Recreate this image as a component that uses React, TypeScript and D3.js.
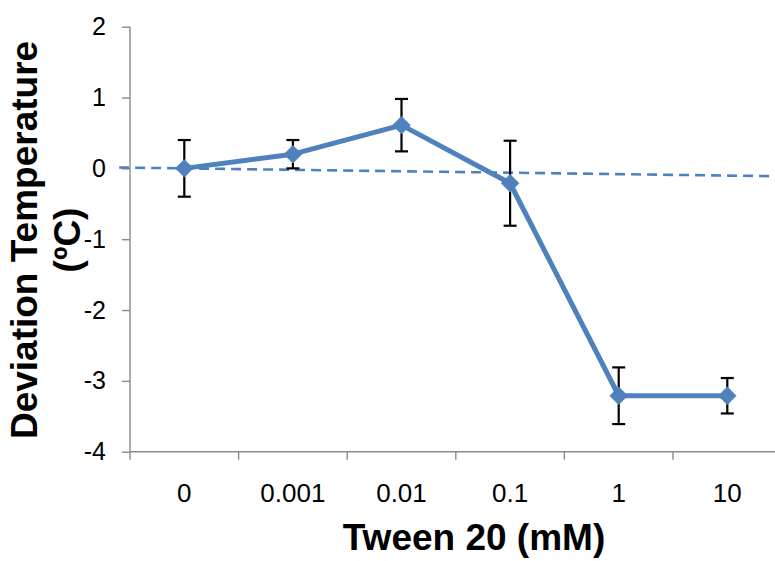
import * as d3 from "d3";
import React from "react";

// data
const categories = ["0", "0.001", "0.01", "0.1", "1", "10"];
const deviation = [0, 0.2, 0.61, -0.21, -3.21, -3.21];
const errors = [0.4, 0.2, 0.37, 0.6, 0.4, 0.25];
const yTicks = [2, 1, 0, -1, -2, -3, -4];
// dashed trend line, ends given as (category index, value)
const trendIndex = [-0.6, 5.6];
const trendValue = [0.012, -0.114];

export default class App extends React.Component {
  svgRef: any;
  width: number;
  height: number;

  constructor(props: any) {
    super(props);
    this.svgRef = React.createRef();
    this.width = 775;
    this.height = 561;
  }

  componentDidMount = () => {
    const svg = d3.select(this.svgRef.current);
    svg.attr("width", this.width).attr("height", this.height);
    this.drawSVG(svg);
  };

  drawSVG = (svg: any) => {
    const blue = "#4F81BD";
    const axisColor = "#8a8a8a";
    const font = "'Liberation Sans', Arial, sans-serif";

    // scales
    const xScale = d3.scaleBand().domain(categories).range([130, 781.6]).padding(0);
    const yScale = d3.scaleLinear().domain([-4, 2]).range([451.7, 26.7]);
    const bw = xScale.bandwidth();
    const xAt = (i: number) => (xScale(categories[0]) as number) + (i + 0.5) * bw;
    const xCenter = (c: string) => (xScale(c) as number) + bw / 2;

    const g = svg.append("g");

    // y axis
    const yAxis = d3.axisLeft(yScale).tickValues(yTicks).tickSize(8).tickPadding(16)
      .tickFormat((d: any) => (d < 0 ? "-" + Math.abs(d) : String(d)));
    const yAxisG = g.append("g").attr("transform", "translate(130,0)").call(yAxis);
    yAxisG.select(".domain").attr("stroke", axisColor).attr("stroke-width", 1.4).attr("d", `M0,${yScale(2)}V${yScale(-4)}`);
    yAxisG.selectAll(".tick line").attr("stroke", axisColor).attr("stroke-width", 1.4);
    yAxisG.selectAll(".tick text")
      .attr("fill", "#000")
      .style("font-family", font)
      .style("font-size", "25px");

    // x axis
    const xAxisG = g.append("g").attr("transform", `translate(0,${yScale(-4)})`);
    xAxisG.append("line")
      .attr("x1", 130).attr("x2", 781.6)
      .attr("stroke", axisColor).attr("stroke-width", 1.4);
    const bounds = categories.map((c) => xScale(c) as number).concat([xScale.range()[1]]);
    xAxisG.selectAll(".xtick").data(bounds).enter().append("line")
      .attr("x1", (d: number) => d).attr("x2", (d: number) => d)
      .attr("y1", 0).attr("y2", 8)
      .attr("stroke", axisColor).attr("stroke-width", 1.4);
    xAxisG.selectAll(".xlabel").data(categories).enter().append("text")
      .attr("x", (d: string) => xCenter(d))
      .attr("y", 50)
      .attr("text-anchor", "middle")
      .style("font-family", font)
      .style("font-size", "26px")
      .text((d: string) => d);

    // axis titles
    g.append("text")
      .attr("x", 474).attr("y", 550)
      .attr("text-anchor", "middle")
      .style("font-family", font)
      .style("font-size", "37px")
      .style("font-weight", "bold")
      .text("Tween 20 (mM)");

    const yTitle = g.append("text")
      .attr("transform", "translate(0,240) rotate(-90)")
      .attr("text-anchor", "middle")
      .style("font-family", font)
      .style("font-size", "37px")
      .style("font-weight", "bold");
    yTitle.append("tspan").attr("x", 0).attr("y", 37).text("Deviation Temperature");
    yTitle.append("tspan").attr("x", 0).attr("y", 80).text("(ºC)");

    // dashed trend line
    g.append("line")
      .attr("x1", xAt(trendIndex[0])).attr("y1", yScale(trendValue[0]))
      .attr("x2", xAt(trendIndex[1])).attr("y2", yScale(trendValue[1]))
      .attr("stroke", blue).attr("stroke-width", 2.6)
      .attr("stroke-dasharray", "10,6");

    // error bars
    const eb = g.append("g").attr("stroke", "#000").attr("stroke-width", 2.2);
    deviation.forEach((v, i) => {
      const x = xCenter(categories[i]);
      const top = yScale(v + errors[i]);
      const bottom = yScale(v - errors[i]);
      eb.append("line").attr("x1", x).attr("x2", x).attr("y1", top).attr("y2", bottom);
      eb.append("line").attr("x1", x - 6.5).attr("x2", x + 6.5).attr("y1", top).attr("y2", top);
      eb.append("line").attr("x1", x - 6.5).attr("x2", x + 6.5).attr("y1", bottom).attr("y2", bottom);
    });

    // data line
    const lineGenerator = d3.line<number>()
      .x((d, i) => xCenter(categories[i]))
      .y((d) => yScale(d));
    g.append("path")
      .attr("d", lineGenerator(deviation))
      .attr("fill", "none")
      .attr("stroke", blue)
      .attr("stroke-width", 5)
      .attr("stroke-linejoin", "round");

    // diamond markers
    const diamond = d3.symbol().type(d3.symbolSquare).size(170);
    g.selectAll(".marker").data(deviation).enter().append("path")
      .attr("d", diamond())
      .attr("transform", (d: number, i: number) => `translate(${xCenter(categories[i])},${yScale(d)}) rotate(45)`)
      .attr("fill", blue);
  };

  render() {
    return (
      <div style={{ position: "absolute", left: 0, top: 0, background: "#fff" }}>
        <svg ref={this.svgRef} style={{ display: "block" }}></svg>
      </div>
    );
  }
}
